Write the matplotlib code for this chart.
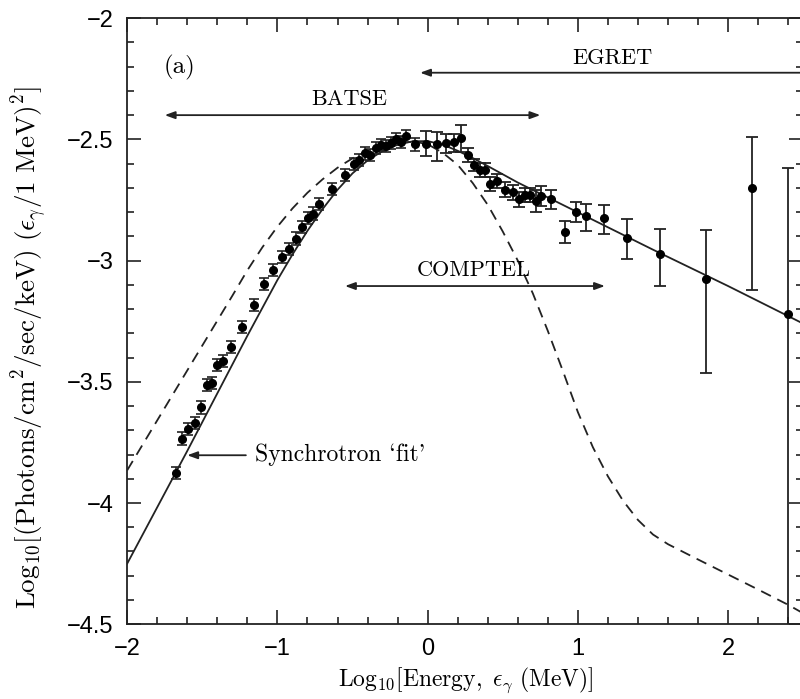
import matplotlib
matplotlib.use('Agg')
import matplotlib.pyplot as plt
from matplotlib.ticker import MultipleLocator, FuncFormatter

plt.rcParams['mathtext.fontset'] = 'cm'

# BATSE points (small errors)
batse_x = [-1.676, -1.636, -1.593, -1.549, -1.509, -1.469, -1.436, -1.404, -1.364,
           -1.309, -1.238, -1.156, -1.087, -1.027, -0.969, -0.920, -0.876, -0.838,
           -0.798, -0.764, -0.720, -0.640, -0.547, -0.487, -0.458, -0.420, -0.387,
           -0.342, -0.309, -0.276, -0.242, -0.209, -0.176, -0.142, -0.085]
batse_y = [-3.876, -3.734, -3.696, -3.669, -3.606, -3.514, -3.504, -3.429, -3.415,
           -3.356, -3.273, -3.184, -3.097, -3.040, -2.987, -2.954, -2.909, -2.861,
           -2.824, -2.806, -2.767, -2.705, -2.648, -2.600, -2.586, -2.558, -2.565,
           -2.535, -2.524, -2.527, -2.514, -2.500, -2.510, -2.487, -2.521]
batse_err = 0.025

# higher energy points (COMPTEL / EGRET)
hi_x = [-0.009, 0.062, 0.124, 0.173, 0.224, 0.269, 0.309, 0.347, 0.382, 0.418,
        0.462, 0.516, 0.569, 0.609, 0.651, 0.684, 0.720, 0.756, 0.818, 0.913,
        0.987, 1.051, 1.173, 1.329, 1.547, 1.853, 2.160, 2.400]
hi_y = [-2.517, -2.521, -2.513, -2.510, -2.496, -2.565, -2.606, -2.627, -2.627, -2.685,
        -2.672, -2.707, -2.719, -2.748, -2.730, -2.730, -2.754, -2.734, -2.748, -2.882,
        -2.800, -2.815, -2.826, -2.905, -2.971, -3.077, -2.700, -3.220]
hi_lo = [0.052, 0.068, 0.043, 0.040, 0.056, 0.030, 0.025, 0.030, 0.030, 0.030,
         0.030, 0.032, 0.030, 0.032, 0.030, 0.030, 0.045, 0.040, 0.040, 0.045,
         0.040, 0.062, 0.066, 0.088, 0.132, 0.388, 0.420, 1.900]
hi_up = [0.052, 0.052, 0.034, 0.032, 0.055, 0.030, 0.025, 0.030, 0.030, 0.030,
         0.030, 0.032, 0.030, 0.032, 0.030, 0.030, 0.045, 0.040, 0.040, 0.045,
         0.040, 0.049, 0.055, 0.076, 0.102, 0.202, 0.210, 0.600]

# synchrotron fit (solid)
fit_x = [-2.0, -1.6, -1.2, -1.1, -1.0, -0.9, -0.8, -0.7, -0.6, -0.5, -0.4, -0.3,
         -0.2, -0.1, 0.0, 0.1, 0.2, 0.3, 0.4, 0.6, 0.818, 1.5, 2.0, 2.5]
fit_y = [-4.25, -3.785, -3.31, -3.195, -3.08, -2.975, -2.877, -2.788, -2.708, -2.640,
         -2.587, -2.548, -2.522, -2.508, -2.507, -2.522, -2.547, -2.577, -2.610, -2.678,
         -2.745, -2.955, -3.105, -3.26]

# dashed curve
dash_x = [-2.0, -1.6, -1.3, -1.2, -1.1, -1.0, -0.9, -0.8, -0.7, -0.6, -0.5, -0.4,
          -0.3, -0.2, -0.1, 0.0, 0.1, 0.2, 0.3, 0.4, 0.5, 0.6, 0.7, 0.8, 0.9, 1.0,
          1.1, 1.2, 1.3, 1.4, 1.5, 1.6, 1.8, 2.0, 2.2, 2.4, 2.5]
dash_y = [-3.865, -3.453, -3.145, -3.04, -2.945, -2.86, -2.785, -2.72, -2.665, -2.617,
          -2.578, -2.547, -2.524, -2.510, -2.508, -2.52, -2.555, -2.605, -2.68, -2.77,
          -2.88, -3.0, -3.135, -3.29, -3.455, -3.625, -3.77, -3.89, -3.99, -4.07,
          -4.13, -4.17, -4.233, -4.295, -4.357, -4.42, -4.455]

fig = plt.figure(figsize=(8, 6.99), dpi=100)
ax = fig.add_axes([0.159, 0.107, 0.845, 0.867])

ink = '#222222'
ax.plot(fit_x, fit_y, color=ink, lw=1.3)
ax.plot(dash_x, dash_y, color=ink, lw=1.3, dashes=(6, 4))
ax.errorbar(batse_x, batse_y, yerr=batse_err, fmt='o', color='black', ecolor=ink,
            ms=5.5, elinewidth=1.2, capsize=3.5, capthick=1.2)
ax.errorbar(hi_x, hi_y, yerr=[hi_lo, hi_up], fmt='o', color='black', ecolor=ink,
            ms=5.5, elinewidth=1.3, capsize=4, capthick=1.3)

ax.set_xlim(-2, 2.5)
ax.set_ylim(-4.5, -2)
ax.xaxis.set_major_locator(MultipleLocator(1))
ax.xaxis.set_minor_locator(MultipleLocator(0.2))
ax.yaxis.set_major_locator(MultipleLocator(0.5))
ax.yaxis.set_minor_locator(MultipleLocator(0.1))
fmt = FuncFormatter(lambda v, p: ('%g' % v).replace('-', '\u2212'))
ax.xaxis.set_major_formatter(fmt)
ax.yaxis.set_major_formatter(fmt)
ax.tick_params(which='both', direction='in', top=True, right=True, color=ink, width=1.2)
ax.tick_params(which='major', length=10, pad=10, labelsize=17)
ax.tick_params(which='minor', length=5)
for lab in ax.get_xticklabels() + ax.get_yticklabels():
    lab.set_family('Liberation Sans')
for s in ax.spines.values():
    s.set_color(ink)
    s.set_linewidth(1.3)

ax.set_xlabel(r'$\mathrm{Log_{10}[Energy,\ }\epsilon_{\gamma}\mathrm{\ (MeV)]}$', fontsize=17, labelpad=4)
ax.set_ylabel(r'$\mathrm{Log_{10}[(Photons/cm^2/sec/keV)\ (}\epsilon_{\gamma}\mathrm{/1\ MeV)^2]}$',
              fontsize=19.5)
ax.yaxis.label.set_va('center')
ax.yaxis.set_label_coords(-0.1435, 0.456)

arrow = dict(arrowstyle='<|-|>,head_length=0.6,head_width=0.22', color=ink, lw=1.3,
             shrinkA=0, shrinkB=0)
one_head = dict(arrowstyle='-|>,head_length=0.6,head_width=0.22', color=ink, lw=1.3,
                shrinkA=0, shrinkB=0)
ax.annotate('', xy=(-1.75, -2.4), xytext=(0.75, -2.4), arrowprops=arrow)
ax.annotate('', xy=(-0.55, -3.105), xytext=(1.18, -3.105), arrowprops=arrow)
ax.annotate('', xy=(-0.05, -2.225), xytext=(2.5, -2.225), arrowprops=one_head)
ax.annotate('', xy=(-1.6, -3.803), xytext=(-1.21, -3.803), arrowprops=one_head)

ax.text(-0.52, -2.335, 'BATSE', family='cmr10', fontsize=16, ha='center', va='center')
ax.text(1.23, -2.165, 'EGRET', family='cmr10', fontsize=16, ha='center', va='center')
ax.text(0.31, -3.04, 'COMPTEL', family='cmr10', fontsize=16, ha='center', va='center')
ax.text(-1.15, -3.80, "Synchrotron `fit'", family='cmr10', fontsize=17, ha='left', va='center')
ax.text(-1.76, -2.205, '(a)', family='cmr10', fontsize=18, ha='left', va='center')

fig.savefig('out.png', dpi=100)
